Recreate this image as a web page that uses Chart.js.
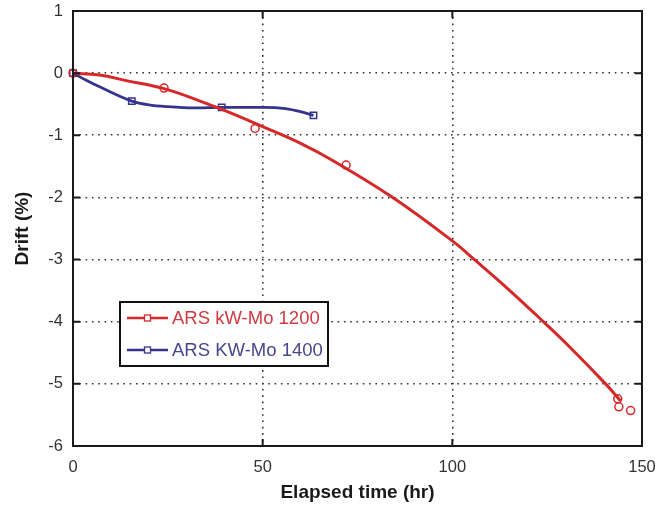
<!DOCTYPE html>
<html>
<head>
<meta charset="utf-8">
<script src="https://cdn.jsdelivr.net/npm/chart.js@4/dist/chart.umd.min.js"></script>
<style>
  html, body { margin: 0; padding: 0; background: #fff; }
  #grafico { display: block; }
</style>
</head>
<body>
<canvas id="grafico" width="656" height="506"></canvas>
<script>
// Pontos medidos (marcadores)
const tempo1200 = [0, 24, 48, 72, 143.6, 143.9, 147];
const drift1200 = [0, -0.24, -0.89, -1.48, -5.24, -5.37, -5.43];
const tempo1400 = [0, 15.5, 39.2, 63.4];
const drift1400 = [0, -0.45, -0.55, -0.68];

// Curvas ajustadas
const curvaTempo1200 = [0, 7, 14, 24, 33.5, 42, 50, 60, 68, 84, 100, 106, 115, 124, 131, 140.4, 144.3];
const curvaDrift1200 = [0, -0.03, -0.12, -0.25, -0.45, -0.65, -0.86, -1.13, -1.39, -1.99, -2.70, -3.01, -3.49, -4.0, -4.41, -5.0, -5.27];
const curvaTempo1400 = [0, 4, 7, 15.5, 20, 25, 32, 39.2, 50, 56, 60, 63.4];
const curvaDrift1400 = [0, -0.13, -0.22, -0.45, -0.51, -0.54, -0.56, -0.55, -0.55, -0.57, -0.62, -0.68];

// Eixos
const ticksX = [0, 50, 100, 150];
const ticksY = [1, 0, -1, -2, -3, -4, -5, -6];
const legendas = ["ARS kW-Mo 1200", "ARS KW-Mo 1400"];

const corVermelha = "rgb(214,40,40)";
const corAzul = "rgb(52,52,140)";
const pares = (xs, ys) => xs.map((x, i) => ({ x, y: ys[i] }));

// Moldura com marcas internas e legenda
const moldura = {
    id: "moldura",
    afterDraw(chart) {
        const { ctx, chartArea: a, scales } = chart;
        ctx.save();
        ctx.strokeStyle = "#1a1a1a";
        ctx.lineWidth = 2;
        ctx.strokeRect(a.left, a.top, a.right - a.left, a.bottom - a.top);
        ctx.beginPath();
        ticksX.forEach(v => {
            const px = scales.x.getPixelForValue(v);
            ctx.moveTo(px, a.bottom); ctx.lineTo(px, a.bottom - 7);
            ctx.moveTo(px, a.top); ctx.lineTo(px, a.top + 7);
        });
        ticksY.forEach(v => {
            const py = scales.y.getPixelForValue(v);
            ctx.moveTo(a.left, py); ctx.lineTo(a.left + 7, py);
            ctx.moveTo(a.right, py); ctx.lineTo(a.right - 7, py);
        });
        ctx.stroke();

        // Legenda
        const lx = a.left + 47, ly = a.top + 291, lw = 208, lh = 64;
        ctx.fillStyle = "#fff";
        ctx.fillRect(lx, ly, lw, lh);
        ctx.lineWidth = 2;
        ctx.strokeStyle = "#111";
        ctx.strokeRect(lx, ly, lw, lh);
        const cores = [corVermelha, corAzul];
        const texto = ["rgb(208,58,64)", "rgb(70,70,145)"];
        legendas.forEach((t, i) => {
            const y = ly + 16 + i * 32;
            ctx.strokeStyle = cores[i];
            ctx.lineWidth = 2.5;
            ctx.beginPath();
            ctx.moveTo(lx + 7, y); ctx.lineTo(lx + 48, y);
            ctx.stroke();
            ctx.lineWidth = 1.3;
            ctx.fillStyle = "#fff";
            ctx.fillRect(lx + 24.5, y - 3, 6, 6);
            ctx.strokeRect(lx + 24.5, y - 3, 6, 6);
            ctx.fillStyle = texto[i];
            ctx.font = "18.5px Arial, 'Liberation Sans', sans-serif";
            ctx.textAlign = "left";
            ctx.textBaseline = "middle";
            ctx.fillText(t, lx + 52, y + 1);
        });
        ctx.restore();
    }
};

const fonteTick = { family: "Arial, 'Liberation Sans', sans-serif", size: 16.5 };
const fonteTitulo = { family: "Arial, 'Liberation Sans', sans-serif", size: 19, weight: "bold" };

const grafico = new Chart(document.getElementById("grafico").getContext("2d"), {
    type: "scatter",
    data: {
        datasets: [
            {
                label: "curva 1200",
                data: pares(curvaTempo1200, curvaDrift1200),
                showLine: true,
                borderColor: corVermelha,
                borderWidth: 3,
                pointRadius: 0,
                tension: 0.4,
                clip: false
            },
            {
                label: "curva 1400",
                data: pares(curvaTempo1400, curvaDrift1400),
                showLine: true,
                borderColor: corAzul,
                borderWidth: 2.8,
                pointRadius: 0,
                cubicInterpolationMode: "monotone",
                clip: false
            },
            {
                label: legendas[0],
                data: pares(tempo1200, drift1200),
                pointStyle: "circle",
                pointRadius: 4,
                borderColor: corVermelha,
                backgroundColor: "rgba(255,255,255,0)",
                borderWidth: 1.5,
                clip: false
            },
            {
                label: legendas[1],
                data: pares(tempo1400, drift1400),
                pointStyle: "rect",
                pointRadius: 4.5,
                borderColor: corAzul,
                backgroundColor: "rgba(255,255,255,0)",
                borderWidth: 1.5,
                clip: false
            }
        ]
    },
    options: {
        responsive: false,
        animation: false,
        devicePixelRatio: 1,
        layout: { padding: { top: 11, right: 14, left: 0, bottom: 0 } },
        plugins: { legend: { display: false }, tooltip: { enabled: false } },
        scales: {
            x: {
                type: "linear",
                min: 0,
                max: 150,
                afterBuildTicks: s => { s.ticks = ticksX.map(v => ({ value: v })); },
                afterFit: s => { s.height = 60; s.paddingLeft = 0; s.paddingRight = 0; },
                ticks: { font: fonteTick, color: "#333", padding: 12, maxRotation: 0 },
                grid: {
                    drawTicks: false,
                    lineWidth: 1.6,
                    color: c => (c.tick && (c.tick.value === 0 || c.tick.value === 150)) ? "rgba(0,0,0,0)" : "#333"
                },
                border: { display: false, dash: [1.6, 4.7] },
                title: { display: true, text: "Elapsed time (hr)", font: fonteTitulo, color: "#1a1a1a", padding: { top: 0, bottom: 2 } }
            },
            y: {
                type: "linear",
                min: -6,
                max: 1,
                afterBuildTicks: s => { s.ticks = ticksY.map(v => ({ value: v })); },
                afterFit: s => { s.width = 73; s.paddingTop = 0; s.paddingBottom = 0; },
                ticks: { font: fonteTick, color: "#333", padding: 10 },
                grid: {
                    drawTicks: false,
                    lineWidth: 1.6,
                    color: c => (c.tick && (c.tick.value === 1 || c.tick.value === -6)) ? "rgba(0,0,0,0)" : "#333"
                },
                border: { display: false, dash: [1.6, 4.7] },
                title: { display: true, text: "Drift (%)", font: fonteTitulo, color: "#1a1a1a", padding: { top: 11, bottom: 0 } }
            }
        }
    },
    plugins: [moldura]
});
</script>
</body>
</html>
